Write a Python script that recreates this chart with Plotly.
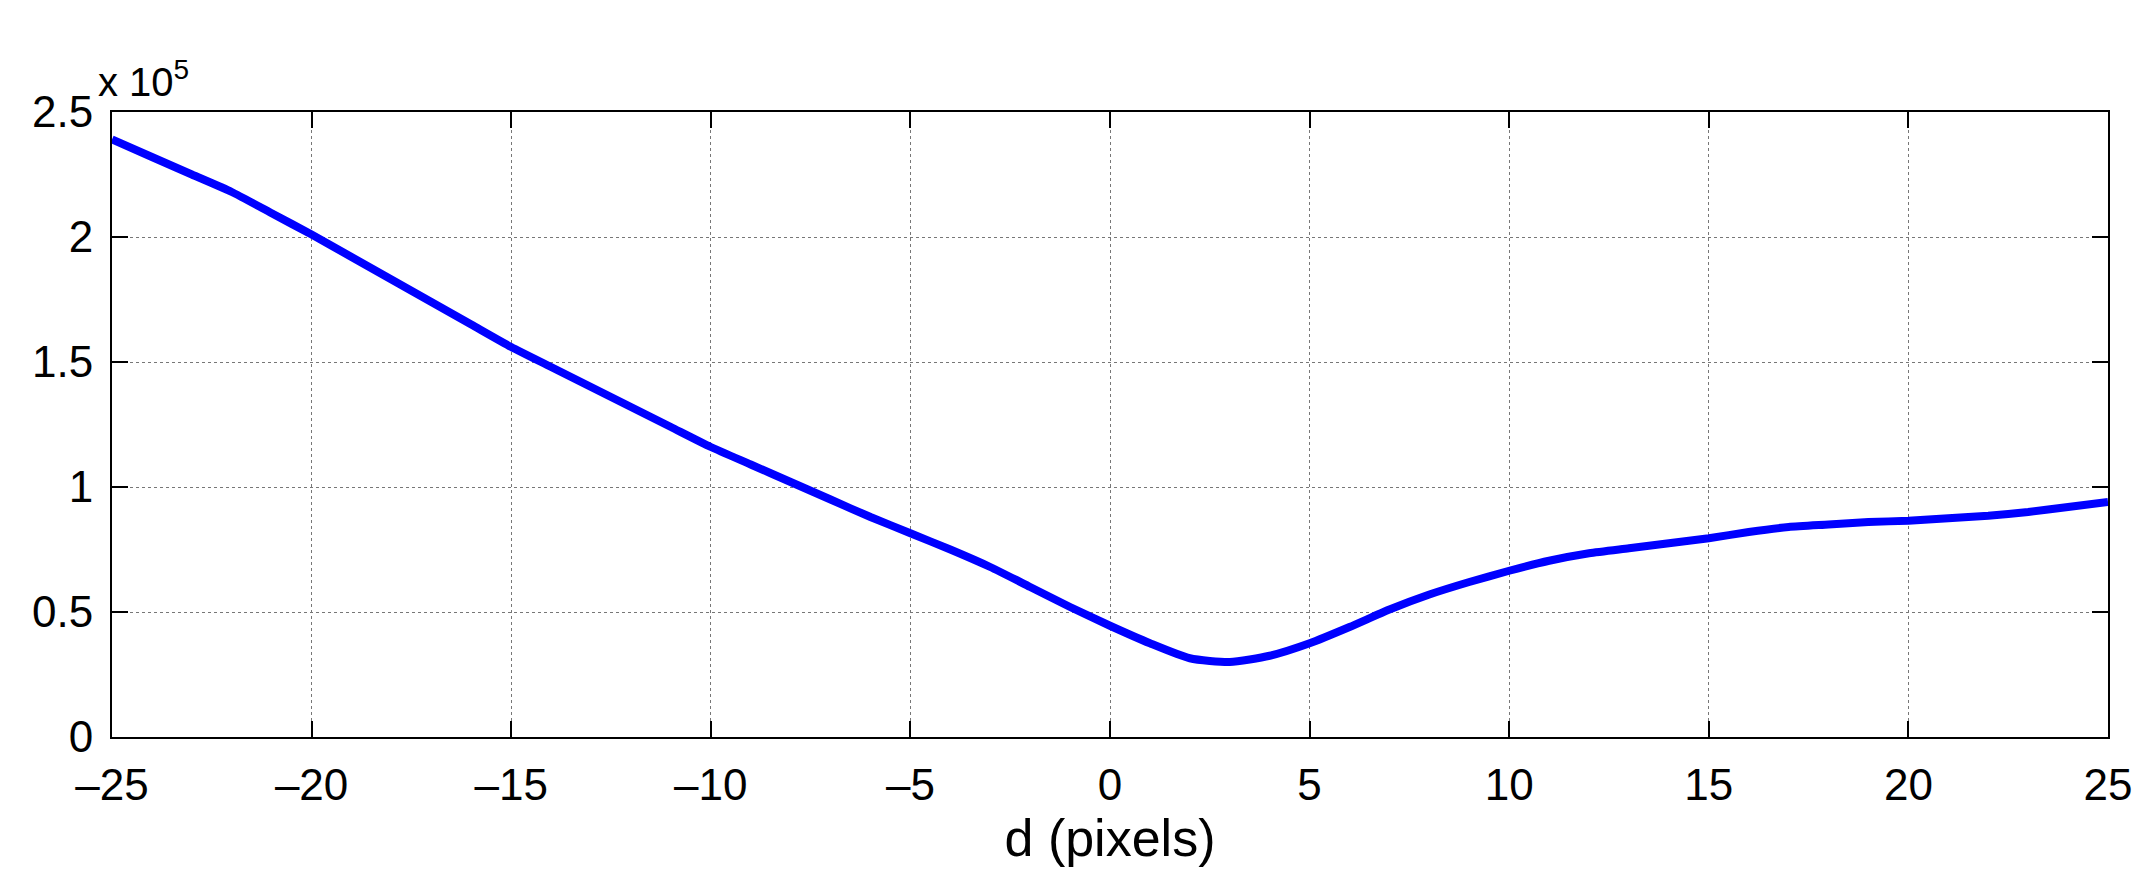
import plotly.graph_objects as go

d = list(range(-25, 26))
cost = [2.39, 2.32, 2.25, 2.18, 2.095, 2.01, 1.92, 1.83, 1.74, 1.65, 1.56, 1.48, 1.40, 1.32, 1.24,
        1.16, 1.09, 1.02, 0.95, 0.88, 0.815, 0.75, 0.68, 0.60, 0.52, 0.445, 0.375, 0.315, 0.30,
        0.325, 0.375, 0.44, 0.51, 0.57, 0.62, 0.665, 0.705, 0.735, 0.755, 0.775, 0.795, 0.82,
        0.84, 0.85, 0.86, 0.865, 0.875, 0.885, 0.90, 0.92, 0.94]
cost = [v * 1e5 for v in cost]
xticks = list(range(-25, 26, 5))
yticks = [0, 0.5e5, 1e5, 1.5e5, 2e5, 2.5e5]
yticklabels = ["0", "0.5", "1", "1.5", "2", "2.5"]
xticklabels = [str(v).replace("-", "\u2013") for v in xticks]

FONT = "Liberation Sans, Arial"
fig = go.Figure(go.Scatter(x=d, y=cost, mode="lines", line=dict(color="#0000ff", width=8, shape="spline", smoothing=0.6)))
axis_common = dict(showline=True, linecolor="black", linewidth=2, mirror="ticks", ticks="inside",
                   ticklen=16, tickwidth=2, tickcolor="black", showgrid=True, gridcolor="#777",
                   griddash="dot", gridwidth=1, zeroline=False,
                   tickfont=dict(family=FONT, size=44, color="black"))
fig.update_xaxes(range=[-25, 25], tickvals=xticks, ticktext=xticklabels, ticklabelstandoff=8,
                 title=dict(text="d (pixels)", font=dict(family=FONT, size=52, color="black"), standoff=6),
                 **axis_common)
fig.update_yaxes(range=[0, 2.5e5], tickvals=yticks, ticktext=yticklabels, ticklabelstandoff=8,
                 **axis_common)
fig.add_annotation(xref="paper", yref="paper", x=-0.008, y=1, xanchor="left", yanchor="bottom",
                   text="x 10<sup>5</sup>", showarrow=False, yshift=6,
                   font=dict(family=FONT, size=40, color="black"))
fig.update_layout(width=2148, height=886, plot_bgcolor="white", paper_bgcolor="white",
                  showlegend=False, margin=dict(l=104, r=48, t=104, b=157))
fig.write_html("out.html")
